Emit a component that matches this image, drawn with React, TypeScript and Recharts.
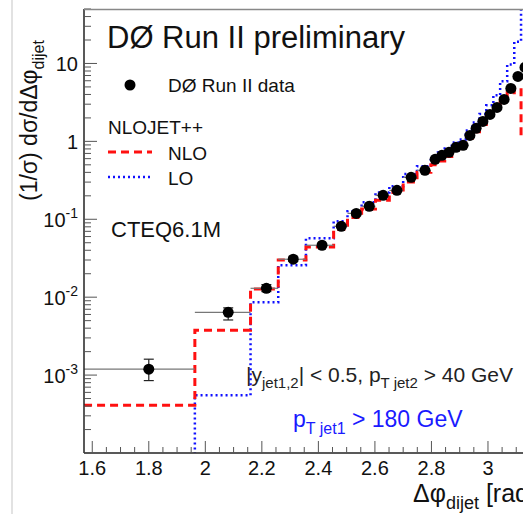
import { ComposedChart, Line, Scatter, ErrorBar, XAxis, YAxis } from 'recharts';

// bin edges in delta phi (rad), from pi/2 to pi
const binEdges = [
  1.571, 1.963, 2.16, 2.258, 2.356, 2.454, 2.503, 2.553, 2.602, 2.651, 2.7, 2.749, 2.798,
  2.823, 2.847, 2.872, 2.896, 2.921, 2.945, 2.97, 2.994, 3.019, 3.043, 3.068, 3.093, 3.117, 3.142,
];

// DØ data points
const pointX = [
  1.8, 2.081, 2.216, 2.311, 2.413, 2.481, 2.534, 2.58, 2.629, 2.678, 2.728, 2.777, 2.813,
  2.837, 2.862, 2.887, 2.912, 2.936, 2.958, 2.982, 3.007, 3.032, 3.057, 3.081, 3.106, 3.131,
];
const dataY = [
  0.00119, 0.0064, 0.013, 0.0307, 0.0464, 0.0813, 0.119, 0.147, 0.203, 0.235, 0.345, 0.425,
  0.588, 0.662, 0.723, 0.838, 0.889, 1.19, 1.47, 1.8, 2.22, 2.73, 3.45, 4.78, 6.81, 8.89,
];
const dataErrDown = [
  0.00034, 0.0013, 0.0012, 0.002, 0.002, 0.003, 0.004, 0.004, 0.005, 0.005, 0.007, 0.008,
  0.01, 0.01, 0.01, 0.012, 0.012, 0.015, 0.02, 0.02, 0.03, 0.03, 0.04, 0.05, 0.07, 0.09,
];
const dataErrUp = [
  0.00041, 0.0009, 0.0015, 0.002, 0.002, 0.003, 0.004, 0.004, 0.005, 0.005, 0.007, 0.008,
  0.01, 0.01, 0.01, 0.012, 0.012, 0.015, 0.02, 0.02, 0.03, 0.03, 0.04, 0.05, 0.07, 0.09,
];

// NLOJET++ predictions per bin
const nloValues = [
  0.00041, 0.00377, 0.0127, 0.03, 0.044, 0.074, 0.105, 0.135, 0.175, 0.22, 0.3, 0.4, 0.5,
  0.56, 0.64, 0.78, 0.85, 1.1, 1.33, 1.65, 2.05, 2.55, 3.2, 4.2, 4.8, 1.25,
];
const loValues = [
  0.000001, 0.00055, 0.0086, 0.0257, 0.057, 0.094, 0.127, 0.165, 0.22, 0.265, 0.38, 0.48, 0.64,
  0.72, 0.81, 0.97, 1.06, 1.38, 1.75, 2.25, 2.9, 3.9, 5.9, 9.7, 19, 200,
];

const xMajorTicks = [1.6, 1.8, 2, 2.2, 2.4, 2.6, 2.8, 3];
const xTickLabels = ['1.6', '1.8', '2', '2.2', '2.4', '2.6', '2.8', '3'];
const yMajorTicks = [0.001, 0.01, 0.1, 1, 10];
const yLabelBase = ['10', '10', '10', '1', '10'];
const yLabelSup = ['-3', '-2', '-1', '', ''];

const xTicks: number[] = [];
for (let i = 0; i <= 30; i++) {
  const v = Math.round((1.6 + i * 0.05) * 100) / 100;
  if (v <= 3.14) xTicks.push(v);
}
const yTicks: number[] = [];
for (let e = -4; e <= 1; e++) {
  for (let k = 1; k <= 9; k++) {
    const v = Number((k * Math.pow(10, e)).toPrecision(3));
    if (v <= 50) yTicks.push(v);
  }
}

const stepRows = (vals: number[]) =>
  binEdges.map((x, i) => ({ x, v: vals[Math.min(i, vals.length - 1)] }));

const nloSteps = stepRows(nloValues);
const loSteps = stepRows(loValues);

const points = pointX.map((x, i) => ({
  x,
  y: dataY[i],
  xErr: [x - binEdges[i], binEdges[i + 1] - x],
  yErr: [dataErrDown[i], dataErrUp[i]],
}));

const FONT = '"Liberation Sans", Arial, Helvetica, sans-serif';

function XTick({ x, y, payload }: any) {
  const idx = xMajorTicks.findIndex((t) => Math.abs(t - payload.value) < 1e-6);
  const major = idx >= 0;
  return (
    <g>
      <line x1={x} x2={x} y1={y} y2={y - (major ? 12 : 6)} stroke="#555" strokeWidth={1} />
      {major && (
        <text x={x} y={y + 22} textAnchor="middle" fontSize={20} fontFamily={FONT} fill="#111">
          {xTickLabels[idx]}
        </text>
      )}
    </g>
  );
}

function YTick({ x, y, payload }: any) {
  const idx = yMajorTicks.findIndex((t) => Math.abs(t - payload.value) < t * 1e-6);
  const major = idx >= 0;
  return (
    <g>
      <line x1={x} x2={x + (major ? 13 : 7)} y1={y} y2={y} stroke="#555" strokeWidth={1} />
      {major && (
        <text x={x - 6} y={y + 8} textAnchor="end" fontSize={20} fontFamily={FONT} fill="#111">
          {yLabelBase[idx]}
          {yLabelSup[idx] && (
            <tspan dy={-9} fontSize={14}>
              {yLabelSup[idx]}
            </tspan>
          )}
        </text>
      )}
    </g>
  );
}

function Dot({ cx, cy }: any) {
  return <circle cx={cx} cy={cy} r={5.5} fill="#000" />;
}

export default function App() {
  return (
    <div
      style={{
        position: 'absolute',
        left: 0,
        top: 0,
        width: 523,
        height: 514,
        overflow: 'hidden',
        background: '#fff',
      }}
    >
      <ComposedChart
        width={540}
        height={514}
        margin={{ top: 9, right: 12, left: 0, bottom: 0 }}
      >
        <XAxis
          dataKey="x"
          type="number"
          domain={[1.5708, 3.1416]}
          allowDataOverflow
          ticks={xTicks}
          interval={0}
          tickSize={0}
          tickMargin={0}
          tick={<XTick />}
          height={61}
          stroke="#222"
          strokeWidth={1.5}
        />
        <YAxis
          type="number"
          scale="log"
          domain={[0.0001, 50]}
          allowDataOverflow
          ticks={yTicks}
          interval={0}
          tickSize={0}
          tickMargin={0}
          tick={<YTick />}
          width={84}
          stroke="#222"
          strokeWidth={1.5}
        />
        <Line
          data={loSteps}
          dataKey="v"
          type="stepAfter"
          stroke="#1010ff"
          strokeWidth={2.5}
          strokeDasharray="2 3"
          dot={false}
          isAnimationActive={false}
        />
        <Line
          data={nloSteps}
          dataKey="v"
          type="stepAfter"
          stroke="#ff1010"
          strokeWidth={3}
          strokeDasharray="8 5"
          dot={false}
          isAnimationActive={false}
        />
        <Scatter data={points} dataKey="y" shape={<Dot />} isAnimationActive={false}>
          <ErrorBar dataKey="xErr" direction="x" width={0} stroke="#777" strokeWidth={1.2} />
          <ErrorBar dataKey="yErr" direction="y" width={5} stroke="#222" strokeWidth={1.2} />
        </Scatter>
      </ComposedChart>

      <svg
        width={523}
        height={514}
        style={{ position: 'absolute', left: 0, top: 0, pointerEvents: 'none' }}
        fontFamily={FONT}
      >
        <line x1={12} x2={12} y1={0} y2={514} stroke="#e2e2e2" strokeWidth={2} />
        <line x1={84} x2={523} y1={9.5} y2={9.5} stroke="#888" strokeWidth={1.5} />

        <text transform="translate(37,201) rotate(-90)" fontSize={23} fill="#111">
          (1/σ) dσ/dΔφ
          <tspan dy={7} fontSize={16}>
            dijet
          </tspan>
        </text>
        <text x={413} y={502} fontSize={25} fill="#111">
          Δφ
          <tspan dy={7} fontSize={18}>
            dijet
          </tspan>
          <tspan dy={-7}> [rad]</tspan>
        </text>

        <text x={107} y={48} fontSize={31} fill="#111">
          DØ Run II preliminary
        </text>

        <circle cx={130} cy={85} r={5.5} fill="#000" />
        <text x={168} y={92} fontSize={19} fill="#111">
          DØ Run II data
        </text>
        <text x={108} y={134} fontSize={19} fill="#111">
          NLOJET++
        </text>
        <line x1={108} x2={152} y1={152} y2={152} stroke="#ff1010" strokeWidth={3} strokeDasharray="8 5" />
        <text x={168} y={160} fontSize={19} fill="#111">
          NLO
        </text>
        <line x1={108} x2={152} y1={177} y2={177} stroke="#1010ff" strokeWidth={2.5} strokeDasharray="2 3" />
        <text x={168} y={185} fontSize={19} fill="#111">
          LO
        </text>
        <text x={111} y={237} fontSize={22} fill="#111">
          CTEQ6.1M
        </text>

        <text x={246} y={382} fontSize={21} fill="#222">
          |y
          <tspan dy={6} fontSize={15}>
            jet1,2
          </tspan>
          <tspan dy={-6}>| &lt; 0.5, p</tspan>
          <tspan dy={6} fontSize={15}>
            T jet2
          </tspan>
          <tspan dy={-6}> &gt; 40 GeV</tspan>
        </text>
        <text x={293} y={427} fontSize={23} fill="#1a1aff">
          p
          <tspan dy={7} fontSize={16}>
            T jet1
          </tspan>
          <tspan dy={-7}> &gt; 180 GeV</tspan>
        </text>
      </svg>
    </div>
  );
}
